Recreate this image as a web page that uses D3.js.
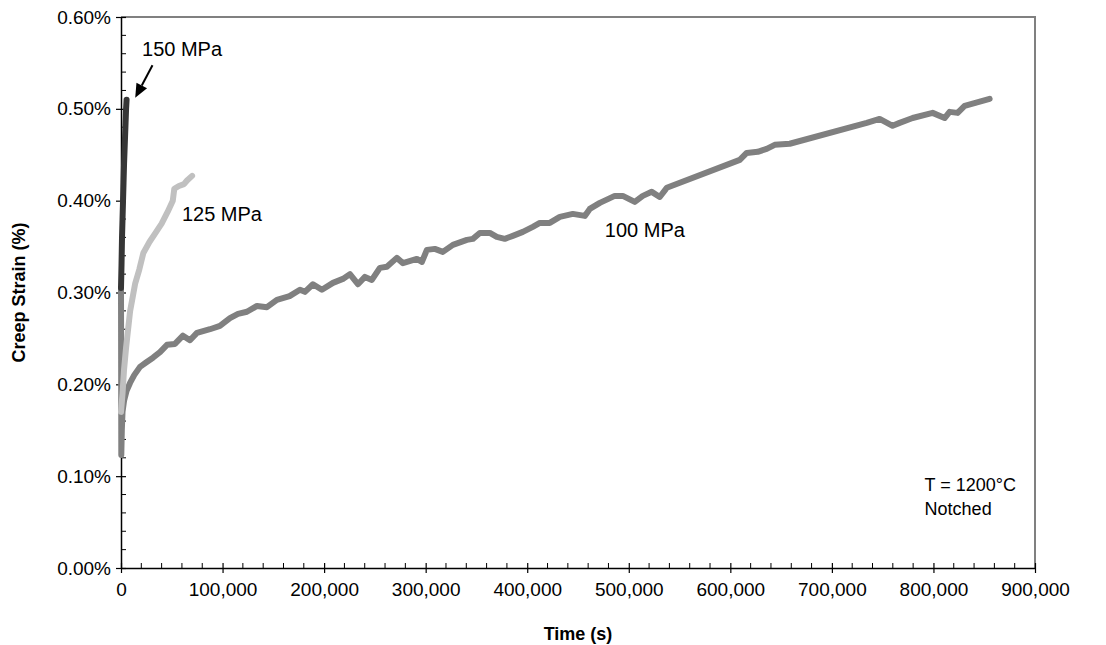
<!DOCTYPE html>
<html>
<head>
<meta charset="utf-8">
<script src="https://cdn.jsdelivr.net/npm/d3@7"></script>
<style>
  html, body { margin: 0; padding: 0; background: #fff; }
  svg { display: block; font-family: "Liberation Sans", Arial, sans-serif; }
</style>
</head>
<body>
<svg id="chart" width="1106" height="645"></svg>
<script>
// Creep strain vs. time, notched specimens at 1200°C
const seriesNames = ["150 MPa", "125 MPa", "100 MPa"];
const seriesColors = ["#363636", "#c0c0c0", "#808080"];

const time150 = [0, 500, 1000, 1500, 2000, 2500, 3000, 3500, 4000, 4500, 5000, 5500];
const strain150 = [0.305, 0.33, 0.36, 0.38, 0.40, 0.42, 0.44, 0.455, 0.47, 0.485, 0.50, 0.51];

const time125 = [0, 1500, 3000, 5000, 7000, 9000, 11000, 14000, 18000, 22000, 28000, 34000,
  40000, 46000, 51000, 52500, 57000, 62000, 65000, 70000];
const strain125 = [0.17, 0.19, 0.216, 0.24, 0.26, 0.28, 0.292, 0.31, 0.325, 0.343, 0.355, 0.365,
  0.375, 0.388, 0.400, 0.413, 0.416, 0.418, 0.422, 0.427];

const time100 = [0, 300, 800, 1500, 3000, 5500, 8900, 13000, 18700, 25000, 31500, 38400, 45300,
  53100, 61000, 67900, 74800, 87600, 97400, 107300, 115200, 124000, 133900, 143700, 153500,
  166000, 176200, 181100, 189000, 197800, 208700, 218500, 225400, 233300, 240200, 247000,
  254900, 261800, 271600, 277600, 291300, 296300, 301200, 309000, 316900, 326800, 340600,
  346500, 353300, 363200, 370000, 377900, 385800, 395700, 405500, 412400, 422200, 432100,
  444900, 456700, 461600, 471500, 486200, 494100, 505900, 513800, 522600, 530500, 537400,
  609300, 616100, 627000, 635800, 643700, 658500, 734300, 747000, 759800, 766700, 779500,
  799200, 811000, 815900, 823800, 830700, 855300];
const strain100 = [0.305, 0.123, 0.150, 0.170, 0.182, 0.193, 0.2015, 0.210, 0.219, 0.224, 0.229,
  0.235, 0.243, 0.244, 0.253, 0.248, 0.256, 0.260, 0.2636, 0.272, 0.2767, 0.279, 0.2854, 0.284,
  0.292, 0.296, 0.303, 0.3007, 0.309, 0.303, 0.3105, 0.3148, 0.320, 0.309, 0.317, 0.3137,
  0.3268, 0.328, 0.3377, 0.332, 0.3366, 0.3333, 0.3464, 0.3475, 0.3442, 0.3519, 0.3573,
  0.3584, 0.3649, 0.3649, 0.3606, 0.3584, 0.3617, 0.366, 0.3715, 0.3758, 0.3758, 0.3824,
  0.3856, 0.3834, 0.391, 0.3976, 0.4052, 0.4052, 0.3987, 0.4052, 0.4096, 0.404, 0.414,
  0.4444, 0.452, 0.4532, 0.4564, 0.4608, 0.462, 0.4847, 0.489, 0.4815, 0.4847, 0.490,
  0.4956, 0.490, 0.4967, 0.4956, 0.5033, 0.5109];

const xTicks = [0, 100000, 200000, 300000, 400000, 500000, 600000, 700000, 800000, 900000];
const yTicks = [0, 0.1, 0.2, 0.3, 0.4, 0.5, 0.6];

// text labels placed in data units [time, strain]
const seriesLabelPos = [[20700, 0.5577], [60000, 0.378], [476400, 0.3606]];
const arrowTail = [31000, 0.5475];
const arrowTip = [14000, 0.512];
const noteLines = ["T = 1200°C", "Notched"];
const notePos = [[791300, 0.0835], [791300, 0.0575]];

const svg = d3.select("#chart");
const margin = { left: 121, right: 71, top: 17, bottom: 77 };
const W = 1106, H = 645;
const x = d3.scaleLinear().domain([0, 900000]).range([margin.left, W - margin.right]);
const y = d3.scaleLinear().domain([0, 0.6]).range([H - margin.bottom, margin.top]);

// plot frame: grey top and right edges
svg.append("path")
  .attr("d", `M${x(0)},${y(0.6)}H${x(900000)}V${y(0)}`)
  .attr("fill", "none").attr("stroke", "#808080").attr("stroke-width", 2);

const fmtPct = d => d.toFixed(2) + "%";
const fmtX = d3.format(",");

// minor ticks (inside)
const xMinor = d3.range(0, 900001, 20000).filter(v => v % 100000 !== 0);
const yMinor = d3.range(0, 61, 2).map(v => v / 100).filter((v, i) => i % 5 !== 0);
svg.append("g").selectAll("line").data(xMinor).join("line")
  .attr("x1", d => x(d)).attr("x2", d => x(d))
  .attr("y1", y(0)).attr("y2", y(0) - 5)
  .attr("stroke", "#000").attr("stroke-width", 1);
svg.append("g").selectAll("line").data(yMinor).join("line")
  .attr("x1", x(0)).attr("x2", x(0) + 5)
  .attr("y1", d => y(d)).attr("y2", d => y(d))
  .attr("stroke", "#000").attr("stroke-width", 1);

// major axes
const xAxis = svg.append("g").attr("transform", `translate(0,${y(0)})`)
  .call(d3.axisBottom(x).tickValues(xTicks).tickFormat(fmtX).tickSizeInner(5).tickSizeOuter(0).tickPadding(10));
const yAxis = svg.append("g").attr("transform", `translate(${x(0)},0)`)
  .call(d3.axisLeft(y).tickValues(yTicks).tickFormat(fmtPct).tickSizeInner(5).tickSizeOuter(0).tickPadding(5));
[xAxis, yAxis].forEach(g => {
  g.select(".domain").attr("stroke", "#000").attr("stroke-width", 1.5);
  g.selectAll(".tick line").attr("stroke", "#000").attr("stroke-width", 1.2);
  g.selectAll(".tick text").attr("fill", "#000")
    .style("font-family", '"Liberation Sans", Arial, sans-serif').style("font-size", "19px");
});
// major ticks cross the axis
xAxis.selectAll(".tick line").attr("y1", -5).attr("y2", 5);
yAxis.selectAll(".tick line").attr("x1", -5).attr("x2", 5);

// curves
const line = d3.line().x(d => x(d[0])).y(d => y(d[1]));
const data = [
  d3.zip(time100, strain100),
  d3.zip(time125, strain125),
  d3.zip(time150, strain150)
];
const order = [2, 1, 0];
data.forEach((pts, i) => {
  svg.append("path").datum(pts)
    .attr("d", line)
    .attr("fill", "none")
    .attr("stroke", seriesColors[order[i]])
    .attr("stroke-width", 6)
    .attr("stroke-linejoin", "round")
    .attr("stroke-linecap", "round");
});

// series labels
seriesNames.forEach((name, i) => {
  svg.append("text")
    .attr("x", x(seriesLabelPos[i][0])).attr("y", y(seriesLabelPos[i][1]))
    .attr("font-size", 20).attr("fill", "#000").text(name);
});

// arrow pointing at the 150 MPa curve
const tx = x(arrowTip[0]), ty = y(arrowTip[1]);
const sx = x(arrowTail[0]), sy = y(arrowTail[1]);
const ang = Math.atan2(ty - sy, tx - sx);
const headLen = 14, headHalf = 6;
const bx = tx - headLen * Math.cos(ang), by = ty - headLen * Math.sin(ang);
svg.append("line").attr("x1", sx).attr("y1", sy).attr("x2", bx).attr("y2", by)
  .attr("stroke", "#000").attr("stroke-width", 2);
svg.append("path")
  .attr("d", `M${tx},${ty}L${bx + headHalf * Math.sin(ang)},${by - headHalf * Math.cos(ang)}L${bx - headHalf * Math.sin(ang)},${by + headHalf * Math.cos(ang)}Z`)
  .attr("fill", "#000");

// condition note
noteLines.forEach((t, i) => {
  svg.append("text").attr("x", x(notePos[i][0])).attr("y", y(notePos[i][1]))
    .attr("font-size", 18).attr("fill", "#000").text(t);
});

// axis titles
svg.append("text")
  .attr("x", (x(0) + x(900000)) / 2).attr("y", 640)
  .attr("text-anchor", "middle").attr("font-weight", "bold").attr("font-size", 18)
  .text("Time (s)");
svg.append("text")
  .attr("transform", `translate(25,${(y(0) + y(0.6)) / 2}) rotate(-90)`)
  .attr("text-anchor", "middle").attr("font-weight", "bold").attr("font-size", 18)
  .text("Creep Strain (%)");
</script>
</body>
</html>
